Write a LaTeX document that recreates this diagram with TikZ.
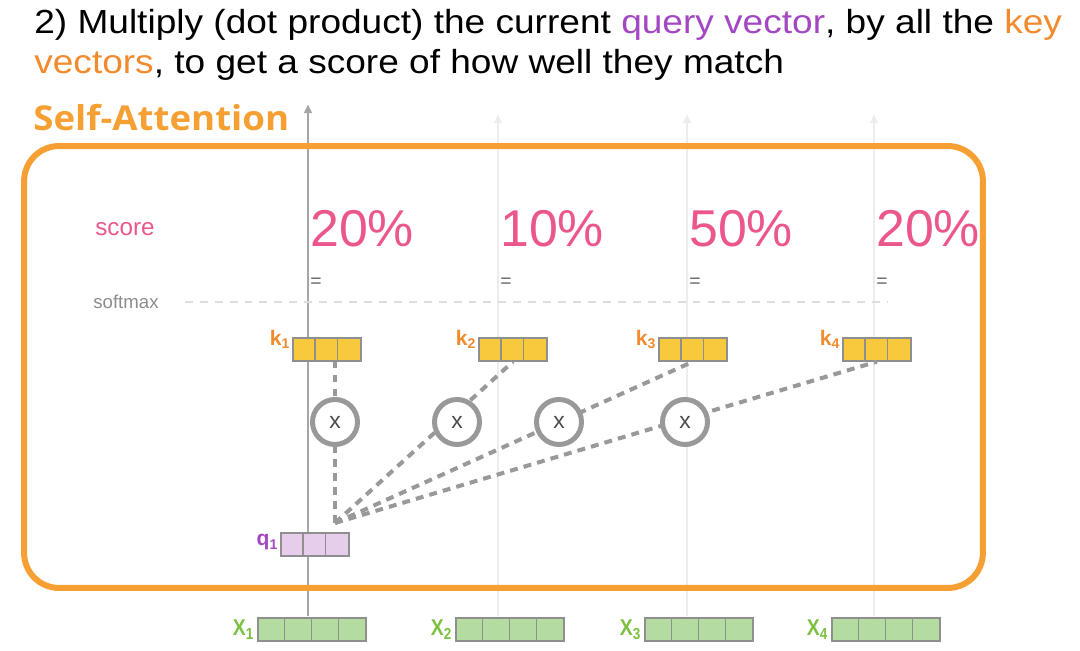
\documentclass[tikz,border=0pt]{standalone}
\usepackage{fontspec}
\setmainfont{Liberation Sans}
\newfontfamily\titlefont[FakeStretch=1.11]{Liberation Sans}
\newfontfamily\headfont[FakeStretch=1.07]{Open Sans}
\newfontfamily\narrowfont[FakeStretch=0.85]{Liberation Sans}
\usetikzlibrary{arrows.meta,calc}

\definecolor{boxorange}{HTML}{F6A033}
\definecolor{keyorange}{HTML}{F28A2E}
\definecolor{querypurple}{HTML}{A347C2}
\definecolor{scorepink}{HTML}{EB578C}
\definecolor{kfill}{HTML}{F8C93C}
\definecolor{qfill}{HTML}{E6CDEB}
\definecolor{xfill}{HTML}{B4DCA0}
\definecolor{xgreen}{HTML}{7BC142}
\definecolor{cellline}{HTML}{8F8F8F}
\definecolor{ringgray}{HTML}{999999}

\tikzset{
  vec/.style={draw=cellline, line width=0.7pt, minimum height=0.46cm, inner sep=0pt},
  kvec/.style={vec, fill=kfill, minimum width=1.36cm},
  qvec/.style={vec, fill=qfill, minimum width=1.36cm},
  xvec/.style={vec, fill=xfill, minimum width=2.16cm},
  veclabel/.style={font=\bfseries\fontsize{12}{12}\selectfont, inner sep=1pt},
  mult/.style={circle, draw=ringgray, line width=0.1cm, fill=white, minimum size=0.9cm,
    inner sep=0pt, font=\fontsize{13}{13}\selectfont, text=black!70},
  dotline/.style={draw=ringgray, line width=2.3pt, dash pattern=on 4.5pt off 3.5pt},
  flow/.style={line width=1.2pt, -{Triangle[length=5pt,width=4.5pt]}},
  pct/.style={text=scorepink, font=\fontsize{29.5}{30}\selectfont, inner sep=0pt, anchor=west},
}

\begin{document}
\begin{tikzpicture}[x=0.02cm,y=-0.02cm]
\useasboundingbox (0,0) rectangle (1080,651);

% title
\node[anchor=north west, align=left, inner sep=0pt, font=\titlefont\fontsize{19}{22.7}\selectfont] (title) at (34,9)
  {2) Multiply (dot product) the current \textcolor{querypurple}{query vector}, by all the \textcolor{keyorange}{key}\\
   \textcolor{keyorange}{vectors}, to get a score of how well they match};

% inputs
\foreach \n/\cx in {1/312,2/510,3/699,4/886} {
  \node[xvec] (x\n) at (\cx,629.5) {};
  \foreach \i in {1,2,3}
    \draw[cellline, line width=0.7pt] ($(x\n.north west)+(\i*27,0)$) -- ($(x\n.south west)+(\i*27,0)$);
  \node[veclabel, text=xgreen, anchor=south east, font=\narrowfont\bfseries\fontsize{13}{13}\selectfont] (xl\n) at ($(x\n.south west)+(-1,0)$) {X\textsubscript{\n}};
}

% flow lines up through the layer
\draw[flow, black!35] ($(x1.north)+(-4,-1)$) -- ++(0,-512) coordinate (top1);
\foreach \n in {2,3,4}
  \draw[flow, black!7] ($(x\n.north)+(-12,-1)$) -- ++(0,-502) coordinate (top\n);

% self-attention box
\node[draw=boxorange, line width=0.12cm, rounded corners=0.7cm, minimum width=19.18cm,
  minimum height=8.84cm, inner sep=0pt] (attn) at (503.5,367) {};
\node[anchor=south west, inner sep=0pt, text=boxorange, font=\headfont\bfseries\fontsize{19.5}{20}\selectfont] (attnlabel) at (33,131) {Self-Attention};

% score and softmax rows
\node[text=scorepink, font=\fontsize{13.8}{14}\selectfont] (score) at (125,229) {score};
\node[text=black!45, font=\fontsize{10.6}{11}\selectfont] (softmax) at (126,302) {softmax};
\coordinate (smend) at (887,302);
\draw[black!13, line width=1.7pt, dash pattern=on 4.5pt off 4pt] (softmax.east) ++(20,0) -- (smend);

\foreach \n/\p in {1/20,2/10,3/50,4/20} {
  \node[pct] (s\n) at ($(top\n |- score)+(2,0)$) {\p\%};
  \node[text=black!60, font=\fontsize{11}{11}\selectfont, inner sep=0pt] (eq\n) at ($(top\n |- score)+(8,54)$) {=};
}

% keys
\foreach \n/\cx in {1/327,2/513,3/693,4/877} {
  \node[kvec] (k\n) at (\cx,349.5) {};
  \foreach \i in {1,2}
    \draw[cellline, line width=0.7pt] ($(k\n.north west)+(\i*22.67,0)$) -- ($(k\n.south west)+(\i*22.67,0)$);
  \node[veclabel, text=keyorange, anchor=east] (kl\n) at ($(k\n.west)+(0,-10)$) {k\textsubscript{\n}};
}

% query
\node[qvec] (q1) at (315,544.5) {};
\foreach \i in {1,2}
  \draw[cellline, line width=0.7pt] ($(q1.north west)+(\i*22.67,0)$) -- ($(q1.south west)+(\i*22.67,0)$);
\node[veclabel, text=querypurple, anchor=east] (ql1) at ($(q1.west)+(0,-2)$) {q\textsubscript{1}};
\coordinate (qtop) at (335,523);

% dot products
\draw[dotline] (qtop) -- (k1.south -| qtop);
\foreach \n in {2,3,4}
  \draw[dotline] (qtop) -- (k\n.south);
\node[mult] (m1) at (335,422) {x};
\node[mult] (m2) at (457,422) {x};
\node[mult] (m3) at (559,422) {x};
\node[mult] (m4) at (685,422) {x};

\end{tikzpicture}
\end{document}
